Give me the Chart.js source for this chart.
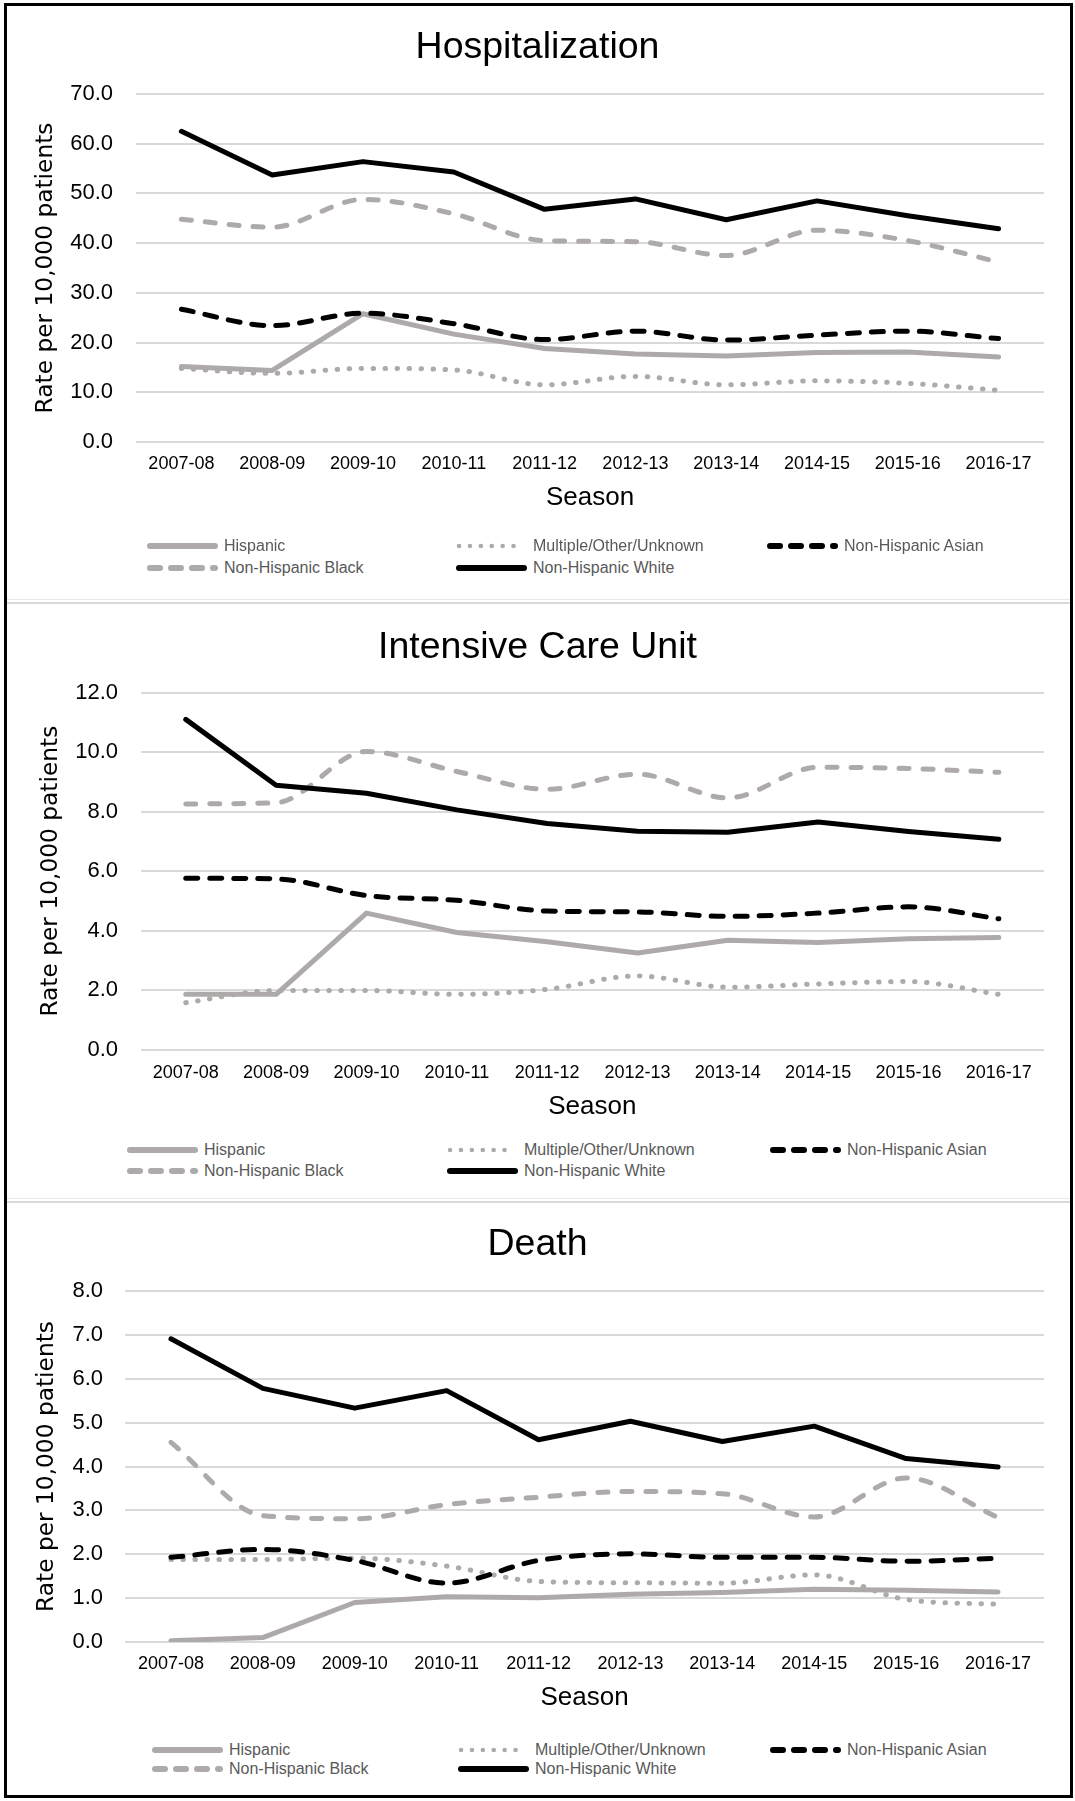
<!DOCTYPE html>
<html>
<head>
<meta charset="utf-8">
<script src="https://cdn.jsdelivr.net/npm/chart.js@4.4.1/dist/chart.umd.min.js"></script>
<style>
  html, body { margin:0; padding:0; background:#fff; }
  body { width:1075px; height:1801px; position:relative; overflow:hidden; }
  canvas { position:absolute; left:31px; }
  .frame { position:absolute; left:4px; top:3px; width:1069px; height:1795px; border:3px solid #000; box-sizing:border-box; z-index:5; pointer-events:none; }
  .sep { position:absolute; left:7px; width:1063px; z-index:4; }
  .leg { position:absolute; display:flex; align-items:center; height:20px; font-family:'Liberation Sans', Arial, sans-serif; font-size:16px; color:#595959; white-space:nowrap; z-index:3; }
  .leg svg { margin-right:6px; flex:none; }
</style>
</head>
<body>
<canvas id="c1" width="1044" height="540" style="top:0px"></canvas>
<canvas id="c2" width="1044" height="540" style="top:600px"></canvas>
<canvas id="c3" width="1044" height="540" style="top:1200px"></canvas>
<div class="sep" style="top:599px;height:1px;background:#E8E8E8"></div>
<div class="sep" style="top:602px;height:2px;background:#D9D9D9"></div>
<div class="sep" style="top:1198px;height:1px;background:#E8E8E8"></div>
<div class="sep" style="top:1201px;height:2px;background:#D9D9D9"></div>
<div class="frame"></div>
<script>
// ---------- DATA ----------
const seasons = ['2007-08','2008-09','2009-10','2010-11','2011-12','2012-13','2013-14','2014-15','2015-16','2016-17'];
const seriesNames = ['Hispanic','Multiple/Other/Unknown','Non-Hispanic Asian','Non-Hispanic Black','Non-Hispanic White'];

// Hospitalization (rate per 10,000 patients)
const hospHispanic = [15.2, 14.4, 25.8, 21.7, 18.8, 17.7, 17.3, 18.0, 18.1, 17.1];
const hospMultiple = [14.8, 13.8, 14.8, 14.5, 11.5, 13.2, 11.5, 12.3, 11.8, 10.4];
const hospAsian    = [26.7, 23.4, 25.9, 23.8, 20.6, 22.3, 20.5, 21.5, 22.3, 20.8];
const hospBlack    = [44.8, 43.2, 48.8, 45.9, 40.5, 40.3, 37.5, 42.6, 40.5, 36.2];
const hospWhite    = [62.5, 53.7, 56.4, 54.3, 46.8, 48.9, 44.7, 48.5, 45.5, 42.9];

// Intensive Care Unit
const icuHispanic = [1.86, 1.86, 4.59, 3.94, 3.63, 3.25, 3.68, 3.60, 3.73, 3.77];
const icuMultiple = [1.58, 1.99, 1.99, 1.86, 2.03, 2.48, 2.10, 2.21, 2.29, 1.86];
const icuAsian    = [5.76, 5.74, 5.18, 5.02, 4.66, 4.63, 4.48, 4.59, 4.80, 4.40];
const icuBlack    = [8.26, 8.30, 10.02, 9.35, 8.75, 9.26, 8.46, 9.49, 9.45, 9.32];
const icuWhite    = [11.10, 8.89, 8.62, 8.06, 7.60, 7.34, 7.31, 7.65, 7.33, 7.07];

// Death
const deathHispanic = [0.03, 0.10, 0.90, 1.03, 1.01, 1.09, 1.13, 1.20, 1.18, 1.14];
const deathMultiple = [1.88, 1.88, 1.91, 1.73, 1.38, 1.35, 1.34, 1.53, 0.97, 0.86];
const deathAsian    = [1.93, 2.11, 1.86, 1.34, 1.86, 2.01, 1.93, 1.93, 1.84, 1.91];
const deathBlack    = [4.55, 2.88, 2.81, 3.13, 3.30, 3.43, 3.38, 2.85, 3.74, 2.84];
const deathWhite    = [6.91, 5.78, 5.33, 5.73, 4.61, 5.03, 4.57, 4.92, 4.18, 3.99];

// Axis ranges / tick steps
const hospAxis  = { max: 70, step: 10 };
const icuAxis   = { max: 12, step: 2 };
const deathAxis = { max: 8,  step: 1 };

// ---------- STYLES ----------
const GRAY = '#AEAAAA', BLACK = '#000000';
const styles = [
  { color: GRAY,  dash: [],          smooth: false, order: 5, kind: 'solid' },
  { color: GRAY,  dash: [0.5, 11.5], smooth: true,  order: 4, kind: 'dot' },
  { color: BLACK, dash: [12, 12],    smooth: true,  order: 3, kind: 'dash' },
  { color: GRAY,  dash: [10, 14],    smooth: true,  order: 2, kind: 'dash' },
  { color: BLACK, dash: [],          smooth: false, order: 1, kind: 'solid' }
];
const SANS = "'Liberation Sans', Arial, sans-serif";

function buildDatasets(arrs) {
  return arrs.map((d, i) => ({
    label: seriesNames[i], data: d,
    borderColor: styles[i].color, backgroundColor: styles[i].color,
    borderWidth: 5, borderDash: styles[i].dash,
    borderCapStyle: 'round', borderJoinStyle: 'round',
    pointRadius: 0,
    tension: styles[i].smooth ? 0.4 : 0,
    cubicInterpolationMode: styles[i].smooth ? 'monotone' : 'default',
    order: styles[i].order, fill: false
  }));
}

function makeChart(id, title, arrs, axis, L) {
  return new Chart(document.getElementById(id), {
    type: 'line',
    data: { labels: seasons, datasets: buildDatasets(arrs) },
    options: {
      responsive: false, animation: false, devicePixelRatio: 1,
      layout: { padding: { left: 0, right: 31, top: 0, bottom: 0 } },
      plugins: {
        legend: { display: false }, tooltip: { enabled: false },
        title: { display: true, text: title, color: '#000',
          font: { family: SANS, size: 37.5, weight: 'normal', lineHeight: 1 },
          padding: { top: L.tTop, bottom: L.tBot } }
      },
      scales: {
        x: {
          offset: true,
          grid: { display: false, drawTicks: false }, border: { display: false },
          ticks: { color: '#000', font: { family: SANS, size: 18 }, padding: L.xPad, maxRotation: 0, autoSkip: false },
          title: { display: true, text: 'Season', color: '#000', font: { family: SANS, size: 26 }, padding: { top: 0, bottom: L.sPad } },
          afterFit(s) { s.height = L.xH; }
        },
        y: {
          min: 0, max: axis.max,
          ticks: { stepSize: axis.step, callback: v => Number(v).toFixed(1), color: '#000', font: { family: SANS, size: 22 }, padding: L.yPad },
          grid: { color: '#D9D9D9', lineWidth: 2, drawTicks: false }, border: { display: false },
          title: { display: true, text: 'Rate per 10,000 patients', color: '#000', font: { family: "'DejaVu Sans', sans-serif", size: 23.3 }, padding: { top: L.yTitle, bottom: 0 } },
          afterFit(s) { s.width = L.yW; }
        }
      }
    }
  });
}

function legendSvg(kind, color) {
  let dash = '';
  let w = 6;
  if (kind === 'dash') dash = 'stroke-dasharray="10 11"';
  if (kind === 'dot') { dash = 'stroke-dasharray="0.1 10.8"'; w = 4.5; }
  return `<svg width="71" height="10"><line x1="3" y1="5" x2="68" y2="5" stroke="${color}" stroke-width="${w}" stroke-linecap="round" ${dash}/></svg>`;
}

function makeLegend(cols, rows) {
  seriesNames.forEach((name, i) => {
    const el = document.createElement('div');
    el.className = 'leg';
    el.style.left = cols[i % 3] + 'px';
    el.style.top = (rows[Math.floor(i / 3)] - 10) + 'px';
    el.innerHTML = legendSvg(styles[i].kind, styles[i].color) + '<span>' + name + '</span>';
    document.body.appendChild(el);
  });
}

// canvas starts at page x=31; y-scale widths below are measured from there
makeChart('c1', 'Hospitalization',
  [hospHispanic, hospMultiple, hospAsian, hospBlack, hospWhite], hospAxis,
  { tTop: 29.25, tBot: 27.25, xPad: 11, xH: 98, sPad: 26.4, yPad: 23, yW: 105, yTitle: 1.2 });
makeChart('c2', 'Intensive Care Unit',
  [icuHispanic, icuMultiple, icuAsian, icuBlack, icuWhite], icuAxis,
  { tTop: 29.25, tBot: 25.85, xPad: 12.1, xH: 90.3, sPad: 17.4, yPad: 22.6, yW: 109.6, yTitle: 6.2 });
makeChart('c3', 'Death',
  [deathHispanic, deathMultiple, deathAsian, deathBlack, deathWhite], deathAxis,
  { tTop: 26.25, tBot: 27.25, xPad: 11.2, xH: 98, sPad: 26.4, yPad: 22, yW: 94, yTitle: 2.2 });

makeLegend([147, 456, 767], [546, 567.5]);
makeLegend([127, 447, 770], [1150, 1171]);
makeLegend([152, 458, 770], [1750, 1769]);
</script>
</body>
</html>
